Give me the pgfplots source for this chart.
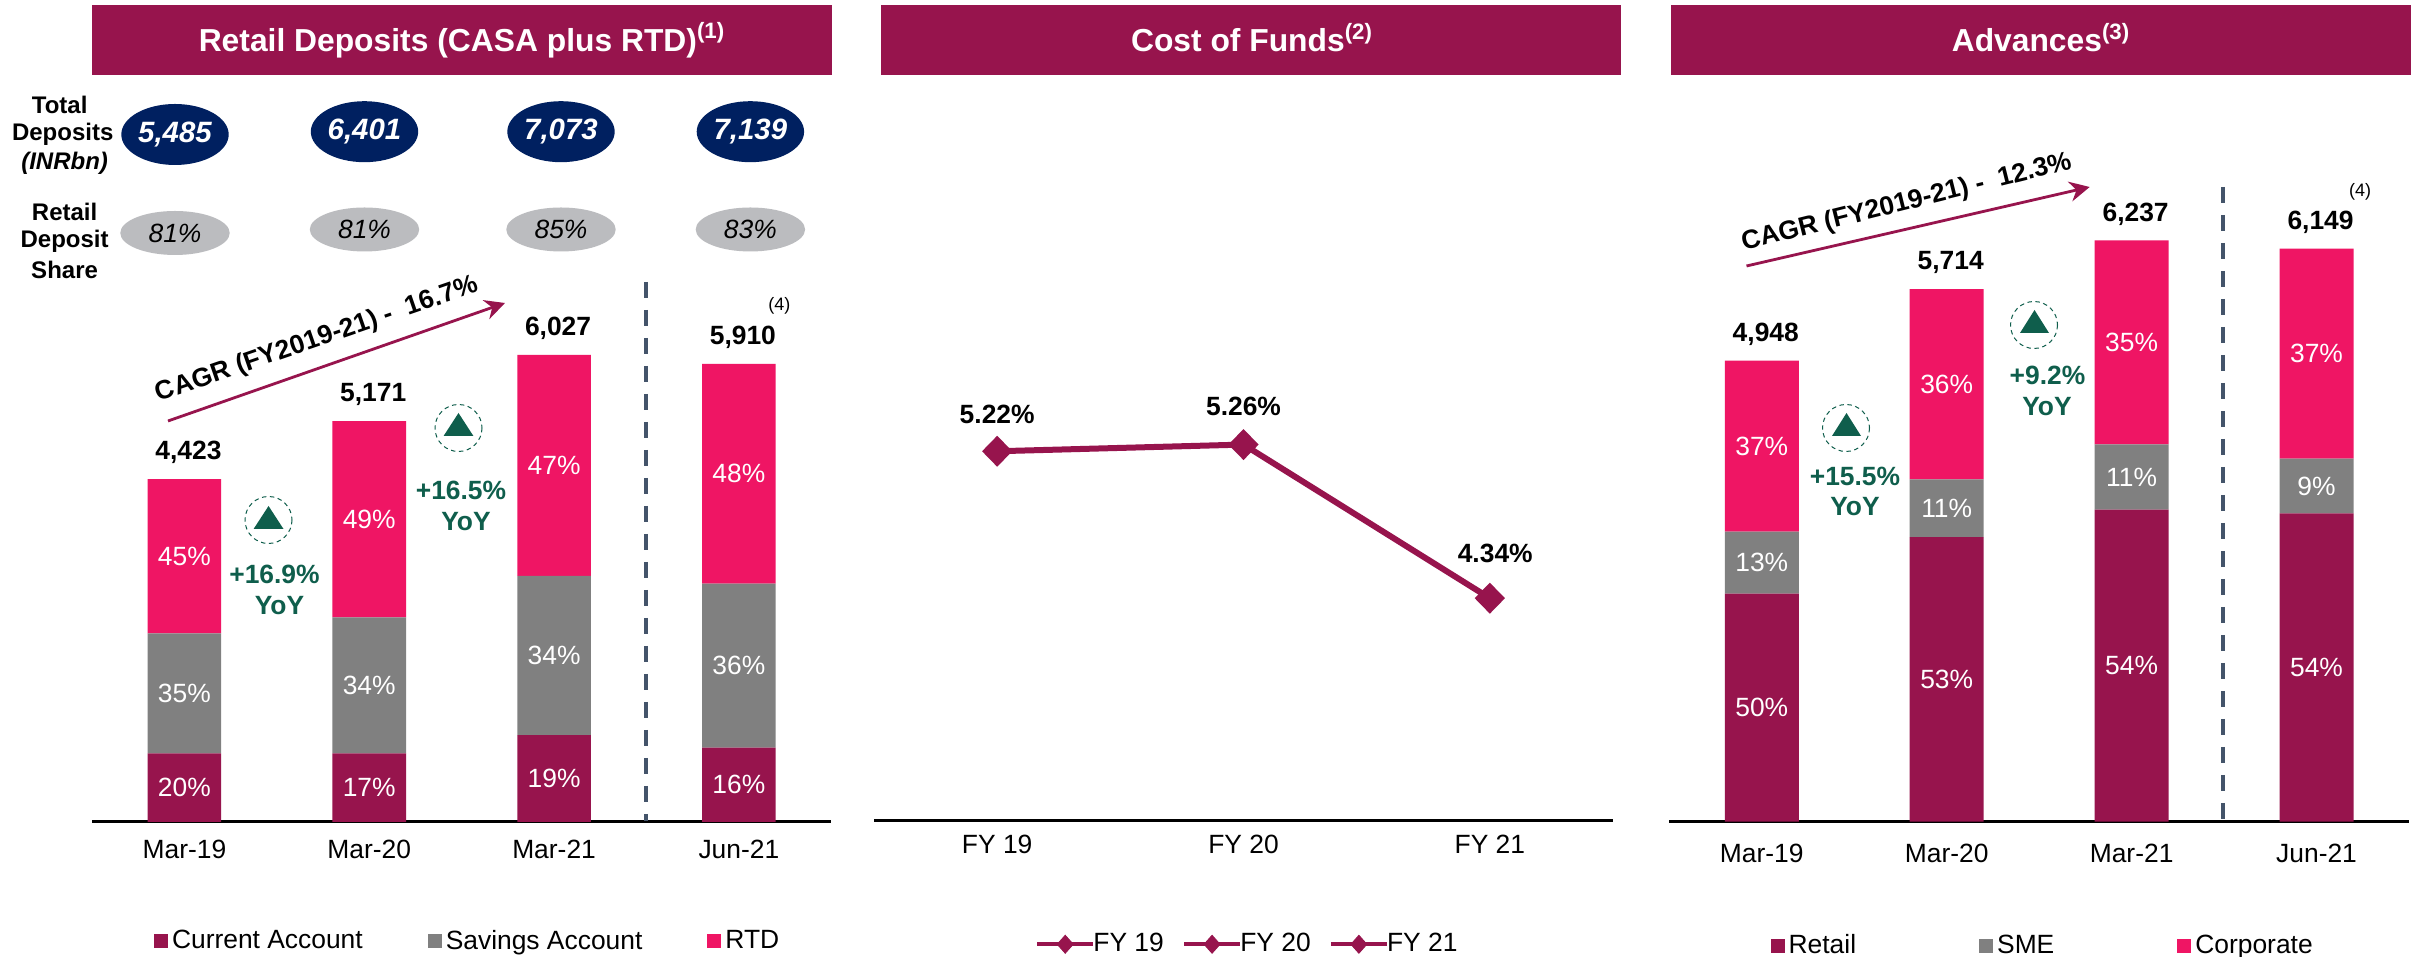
\documentclass[border=0pt]{standalone}
\usepackage{fontspec}
\setmainfont{Liberation Sans}
\usepackage{pgfplots}
\usepackage{pgfplotstable}
\pgfplotsset{compat=1.18}
\usetikzlibrary{arrows.meta}

\definecolor{maroon}{HTML}{97144D}
\definecolor{rose}{HTML}{EF1564}
\definecolor{midgrey}{HTML}{808080}
\definecolor{navy}{HTML}{002060}
\definecolor{pill}{HTML}{BBBCBF}
\definecolor{yoy}{HTML}{0F5E4C}
\definecolor{slate}{HTML}{44546A}

\newcommand{\fs}{\fontsize{13.2}{15}\selectfont}

% deposits, INR bn split off the bar heights; l* = printed shares
\pgfplotstableread{
x ca sa rtd lca lsa lrtd
0 885 1548 1990 20 35 45
1 884 1755 2532 17 34 49
2 1120 2055 2852 19 34 47
3 958 2117 2835 16 36 48
}\deposits

\pgfplotstableread{
x ret sme corp lret lsme lcorp
0 2447 665 1836 50 13 37
1 3053 620 2041 53 11 36
2 3349 698 2190 54 11 35
3 3309 587 2253 54 9 37
}\advances

\pgfplotsset{
  panel/.style={
    scale only axis, clip=false,
    axis y line=none, axis x line=bottom,
    x axis line style={-,line width=1.5pt,black},
    major tick length=0pt, tick style={draw=none},
    ticklabel style={font=\fs,text=black},
    legend cell align=left,
    legend style={draw=none,fill=none,font=\fs,inner sep=0pt,outer sep=0pt,
      legend columns=3},
  },
  stackbars/.style={
    panel, ybar stacked, ymin=0,
    xmin=-0.5, xmax=3.5, xtick={0,1,2,3},
    xticklabels={Mar-19,Mar-20,Mar-21,Jun-21},
    point meta=explicit symbolic,
    nodes near coords={\pgfplotspointmeta\%},
    nodes near coords align={anchor=center},
    every node near coord/.append style={font=\fs,text=white},
    legend image code/.code={\fill[##1] (0pt,-3.5pt) rectangle (7pt,3.5pt);},
  },
}
\tikzset{
  total/.style={font=\fs\bfseries,xshift=2pt,yshift=13.25pt},
  note/.style={font=\fontsize{9}{10}\selectfont},
  rowlab/.style={font=\fontsize{12}{14}\selectfont\bfseries},
  green/.style={font=\fs\bfseries,text=yoy},
  head/.style={text=white,font=\fontsize{15.9}{18}\selectfont\bfseries},
}

\newcommand{\updisc}[5]{% cx cy triangle: left right top base
  \draw[yoy,line width=0.5pt,dash pattern=on 2.2pt off 1.8pt] (#1,#2) circle [radius=23.5];
  \fill[yoy] (#3,#5) -- (#4,#5) -- ({(#3+#4)/2},{#5-23}) -- cycle;
}

\begin{document}
\begin{tikzpicture}[x=0.5pt,y=0.5pt]
\path[use as bounding box,fill=white] (0,0) rectangle (2415,957);

% retail deposits
\begin{axis}[stackbars, at={(46pt,67.5pt)}, anchor=south west,
  width=369.65pt, height=310.85pt, ymax=8022, bar width=36.8pt,
  xticklabel style={yshift=-5.6pt},
  legend style={at={(0.0839,-0.1915)},anchor=west,
    /tikz/every even column/.append style={column sep=30.5pt}},
]
\addplot[fill=maroon,draw=none] table[x=x,y=ca,meta=lca]{\deposits};
\addplot[fill=midgrey,draw=none] table[x=x,y=sa,meta=lsa]{\deposits};
\addplot[fill=rose,draw=none] table[x=x,y=rtd,meta=lrtd]{\deposits};
\legend{Current Account,Savings Account,RTD}
\node[total] at (axis cs:0,4423) {4,423};
\node[total] at (axis cs:1,5171) {5,171};
\node[total] at (axis cs:2,6027) {6,027};
\node[total] at (axis cs:3,5910) {5,910};
\end{axis}

% cost of funds
\begin{axis}[panel, at={(437pt,68.35pt)}, anchor=south west,
  width=369.5pt, height=261pt,
  xmin=-0.5, xmax=2.5, ymin=3.01, ymax=6.136,
  xtick={0,1,2}, xticklabels={FY 19,FY 20,FY 21},
  xticklabel style={yshift=-3.8pt},
  legend style={at={(0.2179,-0.2375)},anchor=west,
    /tikz/every even column/.append style={column sep=7pt},
    /tikz/every odd column/.append style={column sep=-3pt}},
  legend image code/.code={
    \draw[maroon,line width=2.2pt] (0pt,0pt) -- (28pt,0pt);
    \fill[maroon] (14pt,4.5pt) -- (18pt,0pt) -- (14pt,-4.5pt) -- (10pt,0pt) -- cycle;
  },
]
\addplot[forget plot,maroon,line width=3pt,mark=diamond*,mark size=5.6pt,
  mark options={xscale=1.3,solid}] coordinates {(0,5.22) (1,5.26) (2,4.34)};
\addlegendimage{maroon}
\addlegendimage{maroon}
\addlegendimage{maroon}
\legend{FY 19,FY 20,FY 21}
\node[font=\fs\bfseries,yshift=18.5pt] at (axis cs:0,5.22) {5.22\%};
\node[font=\fs\bfseries,yshift=19pt] at (axis cs:1,5.26) {5.26\%};
\node[font=\fs\bfseries,xshift=2.7pt,yshift=22.4pt] at (axis cs:2,4.34) {4.34\%};
\end{axis}

% advances
\begin{axis}[stackbars, at={(834.65pt,67.65pt)}, anchor=south west,
  width=369.85pt, height=335.5pt, ymax=7199, bar width=37pt,
  xticklabel style={yshift=-7.5pt},
  legend style={at={(0.137,-0.185)},anchor=west,
    /tikz/every even column/.append style={column sep=59.5pt}},
]
\addplot[fill=maroon,draw=none] table[x=x,y=ret,meta=lret]{\advances};
\addplot[fill=midgrey,draw=none] table[x=x,y=sme,meta=lsme]{\advances};
\addplot[fill=rose,draw=none] table[x=x,y=corp,meta=lcorp]{\advances};
\legend{Retail,SME,Corporate}
\node[total] at (axis cs:0,4948) {4,948};
\node[total] at (axis cs:1,5714) {5,714};
\node[total] at (axis cs:2,6237) {6,237};
\node[total] at (axis cs:3,6149) {6,149};
\end{axis}

% annotations, in reference pixels from the top left
\begin{scope}[shift={(0,957)},y=-0.5pt]
\fill[maroon] (92,5) rectangle (832,75);
\fill[maroon] (881,5) rectangle (1621,75);
\fill[maroon] (1671,5) rectangle (2411,75);
\node[head] at (462,40) {Retail Deposits (CASA plus RTD)\textsuperscript{(1)}};
\node[head] at (1252,37.5) {Cost of Funds\textsuperscript{(2)}};
\node[head] at (2041,37.5) {Advances\textsuperscript{(3)}};

\node[rowlab] at (59.7,105) {Total};
\node[rowlab] at (62.7,134) {Deposits};
\node[rowlab] at (64.6,163) {\itshape (INRbn)};
\node[rowlab] at (64.6,212) {Retail};
\node[rowlab] at (64.6,241) {Deposit};
\node[rowlab] at (64.6,270) {Share};

\foreach \x/\y/\v in {175/134.5/{5,485},364.5/131.7/{6,401},561/131.7/{7,073},750.4/131.7/{7,139}}{
  \fill[navy] (\x,\y) ellipse [x radius=53.7,y radius=30.5];
  \node[text=white,font=\fontsize{14.7}{16}\selectfont\bfseries\itshape] at (\x,\y) {\v};
}
\foreach \x/\y/\v in {175/233/81,364.5/229.5/81,561/229.5/85,750.4/229.5/83}{
  \fill[pill] (\x,\y) ellipse [x radius=54.7,y radius=22];
  \node[font=\fs\itshape] at (\x,\y) {\v\%};
}

\draw[maroon,line width=1.4pt,-{Stealth[length=10pt,width=10pt]}] (168,421) -- (505,303);
\node[font=\fs\bfseries,rotate=19] at (317,340) {CAGR (FY2019-21) -\ \ 16.7\%};
\draw[maroon,line width=1.4pt,-{Stealth[length=10pt,width=10pt]}] (1746.5,266) -- (2089.7,187);
\node[font=\fs\bfseries,rotate=14] at (1906.7,203) {CAGR (FY2019-21) -\ \ 12.3\%};

\draw[slate,line width=2pt,dash pattern=on 8pt off 6pt] (646,282) -- (646,821);
\draw[slate,line width=2pt,dash pattern=on 8pt off 6pt] (2223,187) -- (2223,819);
\node[note] at (779.4,306) {(4)};
\node[note] at (2360,191.7) {(4)};

\updisc{268.5}{520}{253.6}{283.5}{529}
\node[green] at (274.5,574) {+16.9\%};
\node[green] at (279.5,605.7) {YoY};
\updisc{458.5}{428}{443.6}{473.4}{436}
\node[green] at (461,490) {+16.5\%};
\node[green] at (466,521.7) {YoY};
\updisc{1846}{428}{1832}{1861}{436}
\node[green] at (1855,476.7) {+15.5\%};
\node[green] at (1855,506.7) {YoY};
\updisc{2034}{325}{2020}{2049}{333}
\node[green] at (2047.5,375.7) {+9.2\%};
\node[green] at (2047,406.7) {YoY};
\end{scope}
\end{tikzpicture}
\end{document}
